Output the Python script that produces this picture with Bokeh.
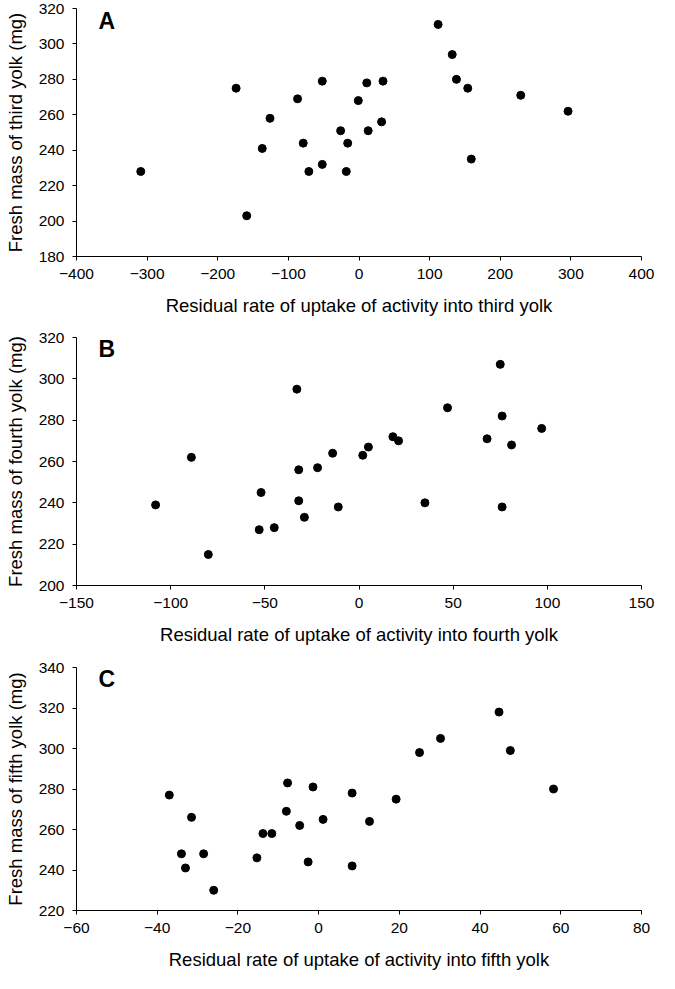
from bokeh.plotting import figure
from bokeh.models import Range1d, FixedTicker, Label
from bokeh.layouts import column
from bokeh.embed import file_html
from bokeh.resources import INLINE

# ---- Panel A: third yolk ----
a_x = [-309, -174, -159, -137, -126, -87, -79, -71, -52, -52, -26, -18, -16, -1,
       11, 13, 32, 34, 112, 132, 138, 154, 159, 229, 296]
a_y = [228, 275, 203, 241, 258, 269, 244, 228, 279, 232, 251, 228, 244, 268,
       278, 251, 256, 279, 311, 294, 280, 275, 235, 271, 262]
a_xticks = [-400, -300, -200, -100, 0, 100, 200, 300, 400]
a_yticks = [180, 200, 220, 240, 260, 280, 300, 320]

# ---- Panel B: fourth yolk ----
b_x = [-108, -89, -80, -53, -52, -45, -33, -32, -32, -29, -22, -14, -11, 2,
       5, 18, 21, 35, 47, 68, 75, 76, 76, 81, 97]
b_y = [239, 262, 215, 227, 245, 228, 295, 241, 256, 233, 257, 264, 238, 263,
       267, 272, 270, 240, 286, 271, 307, 282, 238, 268, 276]
b_xticks = [-150, -100, -50, 0, 50, 100, 150]
b_yticks = [200, 220, 240, 260, 280, 300, 320]

# ---- Panel C: fifth yolk ----
c_x = [-37, -34, -33, -31.5, -28.5, -26, -15.3, -13.8, -11.6, -8, -7.7, -4.7,
       -2.6, -1.4, 1.1, 8.3, 8.3, 12.6, 19.2, 25, 30.2, 44.7, 47.5, 58.2]
c_y = [277, 248, 241, 266, 248, 230, 246, 258, 258, 269, 283, 262,
       244, 281, 265, 278, 242, 264, 275, 298, 305, 318, 299, 280]
c_xticks = [-60, -40, -20, 0, 20, 40, 60, 80]
c_yticks = [220, 240, 260, 280, 300, 320, 340]

FONT = "Liberation Sans"


def make_panel(xs, ys, xticks, yticks, xlabel, ylabel, letter, letter_y,
               top, bottom):
    p = figure(width=659, height=top + 248 + bottom,
               min_border_left=76, min_border_right=18,
               min_border_top=top, min_border_bottom=bottom,
               x_range=Range1d(xticks[0], xticks[-1]),
               y_range=Range1d(yticks[0], yticks[-1]),
               output_backend="svg", toolbar_location=None)
    p.outline_line_color = None
    p.grid.visible = False
    p.background_fill_color = "white"
    p.border_fill_color = "white"
    p.scatter(xs, ys, size=8, color="black")

    for ax, ticks, lab in ((p.xaxis[0], xticks, xlabel), (p.yaxis[0], yticks, ylabel)):
        ax.ticker = FixedTicker(ticks=ticks)
        ax.axis_label = lab
        ax.axis_label_text_font = FONT
        ax.axis_label_text_font_size = "18.5px"
        ax.axis_label_text_font_style = "normal"
        ax.axis_label_text_color = "black"
        ax.major_label_text_font = FONT
        ax.major_label_text_font_size = "15.5px"
        ax.major_label_text_color = "black"
        ax.axis_line_color = "black"
        ax.major_tick_line_color = "black"
        ax.major_tick_in = 0
        ax.major_tick_out = 4
        ax.minor_tick_line_color = None
        ax.major_label_standoff = 8
    p.xaxis[0].axis_label_standoff = 13
    p.yaxis[0].axis_label_standoff = 10

    x0 = xticks[0] + (xticks[-1] - xticks[0]) * 22.0 / 565.0
    p.add_layout(Label(x=x0, y=letter_y, text=letter, text_font=FONT,
                       text_font_size="23px", text_font_style="bold",
                       text_color="black", text_baseline="alphabetic",
                       text_align="left"))
    return p


pA = make_panel(a_x, a_y, a_xticks, a_yticks,
                "Residual rate of uptake of activity into third yolk",
                "Fresh mass of third yolk (mg)", "A", 313.2, 8, 69)
pB = make_panel(b_x, b_y, b_xticks, b_yticks,
                "Residual rate of uptake of activity into fourth yolk",
                "Fresh mass of fourth yolk (mg)", "B", 314.2, 12, 69)
pC = make_panel(c_x, c_y, c_xticks, c_yticks,
                "Residual rate of uptake of activity into fifth yolk",
                "Fresh mass of fifth yolk (mg)", "C", 334.2, 13, 57)

layout = column(pA, pB, pC, spacing=0)
open("out.html", "w").write(file_html(layout, INLINE))
